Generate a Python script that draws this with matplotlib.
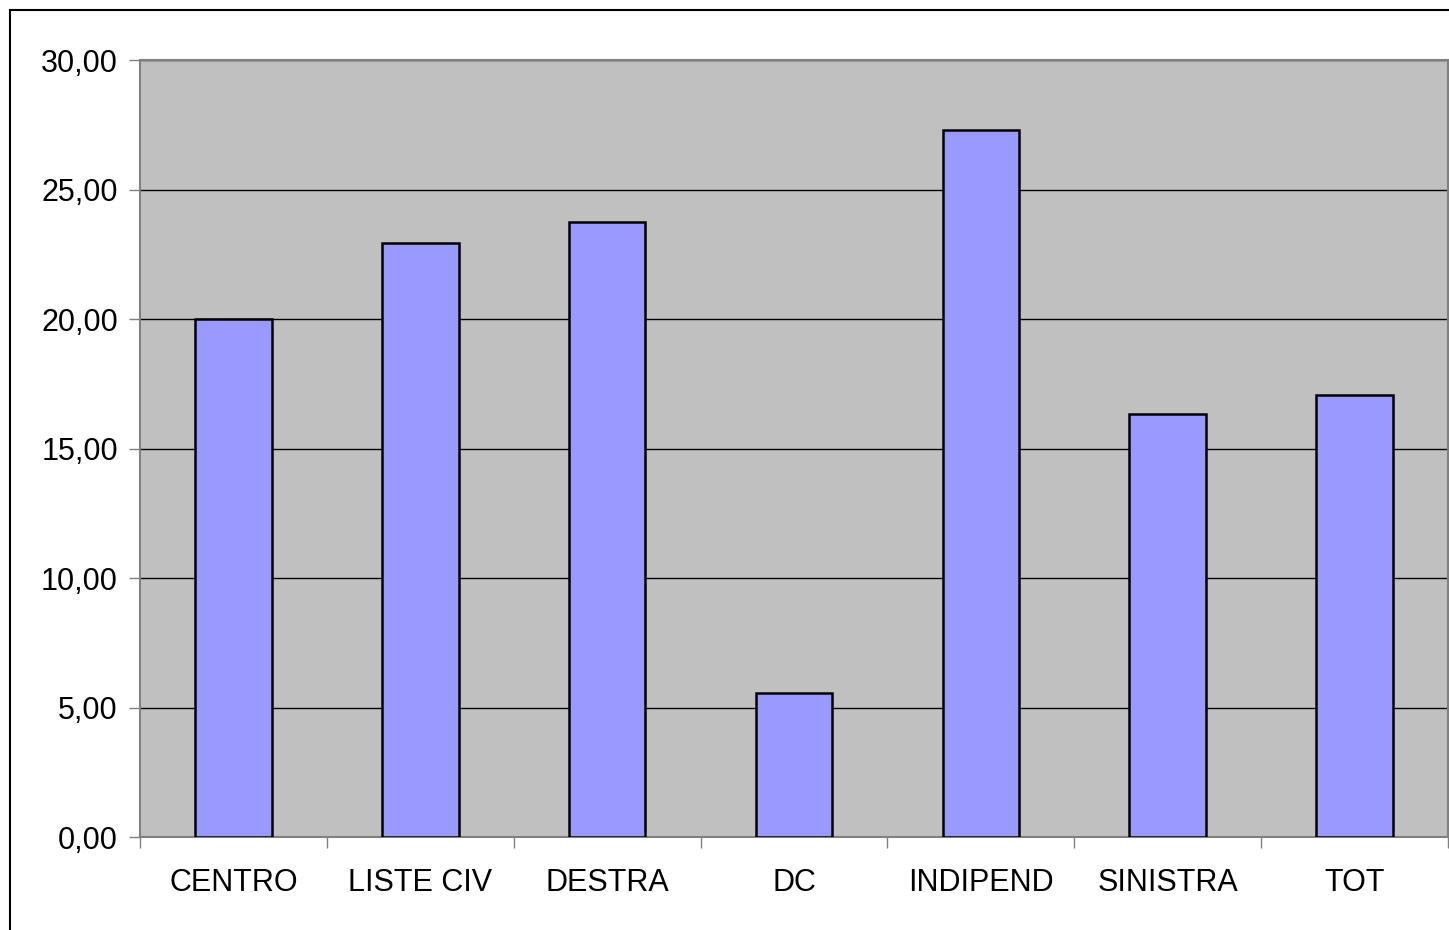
import matplotlib
matplotlib.use("Agg")
import matplotlib.pyplot as plt
import numpy as np

categorie = ["CENTRO", "LISTE CIV", "DESTRA", "DC", "INDIPEND", "SINISTRA", "TOT"]
valori = [20.0, 22.93, 23.75, 5.56, 27.3, 16.33, 17.07]
yticks = [0, 5, 10, 15, 20, 25, 30]

plt.rcParams['font.family'] = ['Liberation Sans', 'DejaVu Sans']

fig = plt.figure(figsize=(14.49, 9.30), dpi=100)
W, H = 1449, 930

# cornice esterna (solo lati sinistro e superiore visibili)
fig.add_artist(plt.Line2D([10 / W, 10 / W], [0, 1 - 10 / H], color="black", lw=1.5))
fig.add_artist(plt.Line2D([10 / W, 1], [1 - 10 / H, 1 - 10 / H], color="black", lw=1.5))

ax = fig.add_axes([140 / W, (H - 837) / H, (1448 - 140) / W, (837 - 60) / H])
ax.set_facecolor("#C0C0C0")

x = np.arange(len(categorie))
ax.bar(x, valori, width=0.41, color="#9999FF", edgecolor="black", linewidth=1.8, zorder=3)

ax.set_xlim(-0.5, len(categorie) - 0.5)
ax.set_ylim(0, 30)
ax.set_yticks(yticks)
ax.set_yticklabels([("%.2f" % v).replace(".", ",") for v in yticks])
ax.yaxis.grid(True, color="black", linewidth=1.0, zorder=1)
ax.set_axisbelow(True)

# tick sull'asse x tra le categorie
ax.set_xticks(np.arange(-0.5, len(categorie), 1.0))
ax.set_xticklabels([])
ax.set_xticks(x, minor=True)
ax.set_xticklabels(categorie, minor=True)
ax.tick_params(axis="x", which="minor", length=0, pad=22, labelsize=22)
ax.tick_params(axis="x", which="major", length=8, width=1, color="#808080", direction="out")
ax.tick_params(axis="y", length=8, width=1, color="#808080", labelsize=22, pad=8)

for s in ax.spines.values():
    s.set_color("#808080")
    s.set_linewidth(1.5)

fig.savefig("out.png", dpi=100)
